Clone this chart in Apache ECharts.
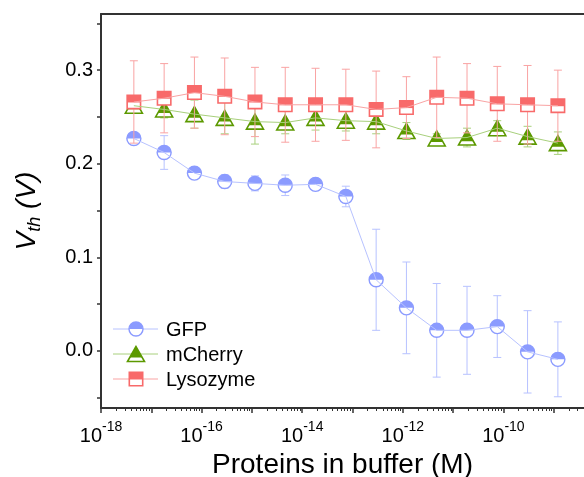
<!DOCTYPE html>
<html><head><meta charset="utf-8">
<script src="https://cdn.jsdelivr.net/npm/echarts@6/dist/echarts.min.js"></script>
<style>html,body{margin:0;padding:0;background:#fff}#c{width:584px;height:477px}</style>
</head><body><div id="c"></div>
<script>
// ---- data ----
const concentrations = [4.5e-18, 1.8e-17, 7.2e-17, 2.88e-16, 1.15e-15, 4.6e-15, 1.84e-14, 7.37e-14, 2.95e-13, 1.18e-12, 4.72e-12, 1.89e-11, 7.55e-11, 3.02e-10, 1.21e-9];
const gfp = [0.227, 0.212, 0.190, 0.181, 0.179, 0.177, 0.178, 0.165, 0.076, 0.046, 0.022, 0.022, 0.026, -0.001, -0.009];
const gfpErr = [0.005, 0.018, 0.005, 0.007, 0.008, 0.011, 0.006, 0.011, 0.054, 0.049, 0.050, 0.047, 0.033, 0.044, 0.040];
const mcherry = [0.262, 0.258, 0.253, 0.249, 0.245, 0.244, 0.249, 0.246, 0.245, 0.235, 0.227, 0.228, 0.238, 0.229, 0.222];
const mcherryErr = [0.007, 0.009, 0.015, 0.017, 0.024, 0.012, 0.013, 0.011, 0.013, 0.009, 0.005, 0.010, 0.008, 0.011, 0.012];
const lysozyme = [0.266, 0.270, 0.276, 0.272, 0.266, 0.263, 0.263, 0.263, 0.258, 0.260, 0.271, 0.270, 0.264, 0.263, 0.262];
const lysozymeErr = [0.044, 0.037, 0.038, 0.041, 0.037, 0.040, 0.039, 0.038, 0.041, 0.033, 0.043, 0.037, 0.040, 0.042, 0.038];
const seriesNames = ['GFP', 'mCherry', 'Lysozyme'];
const xLabelValues = [1e-18, 1e-16, 1e-14, 1e-12, 1e-10];
const yLabelValues = [0, 0.1, 0.2, 0.3];

// ---- ticks ----
const xMajor = [], xMinor = [];
for (let e = -18; e <= -9; e++) {
  xMajor.push(Number('1e' + e));
  for (let m = 2; m <= 9; m++) xMinor.push(Number(m + 'e' + e));
}
const yTicks = [-0.05, 0, 0.05, 0.1, 0.15, 0.2, 0.25, 0.3, 0.35];

const FONT = 'Liberation Sans, Arial, sans-serif';
const styles = [
  { kind: 'circle', color: '#8B9BFF', line: '#B7C2FF' },
  { kind: 'triangle', color: '#5C9900', line: '#A8D07C' },
  { kind: 'square', color: '#F86A6A', line: '#F9A3A3' }
];

function marker(kind, cx, cy, color) {
  const lw = 1.6;
  if (kind === 'circle') {
    const r = 7;
    return [
      { type: 'circle', shape: { cx, cy, r }, style: { fill: '#fff', stroke: null } },
      { type: 'sector', shape: { cx, cy, r0: 0, r, startAngle: Math.PI, endAngle: 2 * Math.PI, clockwise: true }, style: { fill: color } },
      { type: 'circle', shape: { cx, cy, r }, style: { fill: null, stroke: color, lineWidth: 1.4 } }
    ];
  } else if (kind === 'triangle') {
    const hw = 8.5, hh = 7.5;
    const f = 0.74; // fill fraction of height
    const yb = cy - hh + 2 * hh * f;
    const w = hw * f;
    return [
      { type: 'polygon', shape: { points: [[cx, cy - hh], [cx - hw, cy + hh], [cx + hw, cy + hh]] }, style: { fill: '#fff' } },
      { type: 'polygon', shape: { points: [[cx, cy - hh], [cx - w, yb], [cx + w, yb]] }, style: { fill: color } },
      { type: 'polygon', shape: { points: [[cx, cy - hh], [cx - hw, cy + hh], [cx + hw, cy + hh]] }, style: { fill: null, stroke: color, lineWidth: lw } }
    ];
  } else {
    const h = 6.7;
    return [
      { type: 'rect', shape: { x: cx - h, y: cy - h, width: 2 * h, height: 2 * h }, style: { fill: '#fff' } },
      { type: 'rect', shape: { x: cx - h, y: cy - h, width: 2 * h, height: h + 0.5 }, style: { fill: color } },
      { type: 'rect', shape: { x: cx - h, y: cy - h, width: 2 * h, height: 2 * h }, style: { fill: null, stroke: color, lineWidth: lw } }
    ];
  }
}

function makeRender(st) {
  return function (params, api) {
    const x = api.value(0), y = api.value(1), e = api.value(2);
    const p = api.coord([x, y]);
    const t = api.coord([x, y + e]);
    const b = api.coord([x, y - e]);
    const c = 4;
    const ls = { stroke: st.line, lineWidth: 1 };
    const children = [
      { type: 'line', shape: { x1: p[0], y1: t[1], x2: p[0], y2: b[1] }, style: ls },
      { type: 'line', shape: { x1: p[0] - c, y1: t[1], x2: p[0] + c, y2: t[1] }, style: ls },
      { type: 'line', shape: { x1: p[0] - c, y1: b[1], x2: p[0] + c, y2: b[1] }, style: ls }
    ].concat(marker(st.kind, p[0], p[1], st.color));
    return { type: 'group', children };
  };
}

const values = [gfp, mcherry, lysozyme];
const errs = [gfpErr, mcherryErr, lysozymeErr];
const series = [];
values.forEach((vals, k) => {
  series.push({
    type: 'line', name: seriesNames[k], xAxisIndex: 0, yAxisIndex: 0,
    data: concentrations.map((c, i) => [c, vals[i]]),
    symbol: 'none', lineStyle: { color: styles[k].line, width: 1 }, silent: true, animation: false
  });
  series.push({
    type: 'custom', name: seriesNames[k] + ' markers', xAxisIndex: 0, yAxisIndex: 0,
    data: concentrations.map((c, i) => [c, vals[i], errs[k][i]]),
    encode: { x: 0, y: 1 },
    renderItem: makeRender(styles[k]), clip: false, animation: false, silent: true
  });
});

// legend drawn as graphic
const legendEls = [];
seriesNames.forEach((n, k) => {
  const yy = 329 + k * 25;
  legendEls.push({ type: 'line', shape: { x1: 113, y1: yy, x2: 158, y2: yy }, style: { stroke: styles[k].line, lineWidth: 1 } });
  marker(styles[k].kind, 136, yy, styles[k].color).forEach(el => legendEls.push(el));
  legendEls.push({ type: 'text', style: { text: n, x: 166, y: yy + 1, fill: '#000', fontSize: 20, fontFamily: FONT, verticalAlign: 'middle', align: 'left' } });
});

const axisLineStyle = { color: '#333', width: 2 };
const option = {
  animation: false,
  backgroundColor: '#fff',
  grid: { left: 101, right: 0, top: 14, bottom: 69, containLabel: false, outerBoundsMode: 'none' },
  xAxis: [
    {
      type: 'log', logBase: 10, min: 1e-18, max: 4e-9, position: 'bottom',
      axisLine: { show: true, onZero: false, lineStyle: axisLineStyle },
      axisTick: { show: true, customValues: xMajor, length: 5, lineStyle: { color: '#333', width: 1.5 } },
      minorTick: { show: false },
      splitLine: { show: false },
      axisLabel: {
        customValues: xLabelValues, margin: 12,
        formatter: v => '{b|10}{s|' + Math.round(Math.log10(v)) + '}',
        rich: {
          b: { fontSize: 20, fontFamily: FONT, color: '#000', lineHeight: 26, verticalAlign: 'bottom' },
          s: { fontSize: 14, fontFamily: FONT, color: '#000', lineHeight: 26, verticalAlign: 'top' }
        }
      },
      name: 'Proteins in buffer (M)', nameLocation: 'middle', nameGap: 38,
      nameTextStyle: { fontSize: 28, fontFamily: FONT, color: '#000' }
    },
    {
      type: 'log', logBase: 10, min: 1e-18, max: 4e-9, position: 'bottom',
      axisLine: { show: false, onZero: false },
      axisTick: { show: true, customValues: xMinor, length: 3, lineStyle: { color: '#333', width: 1 } },
      axisLabel: { show: false }, splitLine: { show: false }
    },
    {
      type: 'log', logBase: 10, min: 1e-18, max: 4e-9, position: 'top',
      axisLine: { show: true, onZero: false, lineStyle: axisLineStyle },
      axisTick: { show: false }, axisLabel: { show: false }, splitLine: { show: false }
    }
  ],
  yAxis: [
    {
      type: 'value', min: -0.061, max: 0.36,
      axisLine: { show: true, onZero: false, lineStyle: axisLineStyle },
      axisTick: { show: true, customValues: yTicks, length: 4, lineStyle: { color: '#333', width: 1.5 } },
      splitLine: { show: false },
      axisLabel: { customValues: yLabelValues, formatter: v => v.toFixed(1), fontSize: 20, fontFamily: FONT, color: '#000', margin: 8 },
      name: '{v|V}{t|th}{p| (V)}', nameLocation: 'middle', nameGap: 57,
      nameTextStyle: {
        rich: {
          v: { fontSize: 28, fontStyle: 'italic', fontFamily: FONT, color: '#000', lineHeight: 34, verticalAlign: 'middle' },
          t: { fontSize: 18, fontStyle: 'italic', fontFamily: FONT, color: '#000', lineHeight: 34, verticalAlign: 'bottom' },
          p: { fontSize: 28, fontStyle: 'italic', fontFamily: FONT, color: '#000', lineHeight: 34, verticalAlign: 'middle' }
        }
      }
    }
  ],
  graphic: legendEls,
  series
};
const chart = echarts.init(document.getElementById('c'), null, { renderer: 'canvas' });
chart.setOption(option);
</script>
</body></html>
